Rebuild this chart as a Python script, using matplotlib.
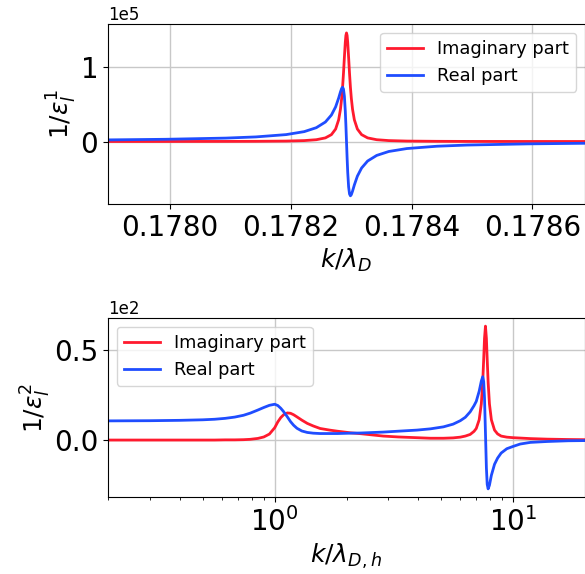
import matplotlib
matplotlib.use("Agg")
import matplotlib.pyplot as plt
import numpy as np

# top panel: resonance near k/lambda_D = 0.178292 (values in units of 1e5)
k1 = [0.177897, 0.177992, 0.178092, 0.178142, 0.178192, 0.178222, 0.178242,
      0.178257, 0.178267, 0.178274, 0.178279, 0.178282, 0.178284, 0.1782855,
      0.178287, 0.1782885, 0.178290, 0.178291, 0.178292, 0.178293, 0.178294,
      0.1782955, 0.178297, 0.1782985, 0.178300, 0.178302, 0.178305, 0.178310,
      0.178317, 0.178327, 0.178342, 0.178362, 0.178392, 0.178442, 0.178492,
      0.178592, 0.178687]
imag1 = [0.0004, 0.0007, 0.0015, 0.0027, 0.0061, 0.0125, 0.0243,
         0.0487, 0.0925, 0.168, 0.292, 0.434, 0.581, 0.730,
         0.917, 1.132, 1.334, 1.426, 1.460, 1.426, 1.334,
         1.132, 0.917, 0.730, 0.581, 0.434, 0.292, 0.168,
         0.0925, 0.0487, 0.0243, 0.0125, 0.0061, 0.0027, 0.0015,
         0.0007, 0.0004]
real1 = [0.0220, 0.0300, 0.0460, 0.0620, 0.0930, 0.133, 0.186,
         0.262, 0.356, 0.466, 0.584, 0.667, 0.714, 0.730,
         0.705, 0.609, 0.410, 0.219, 0.0, -0.219, -0.410,
         -0.609, -0.705, -0.730, -0.714, -0.667, -0.584, -0.466,
         -0.356, -0.262, -0.187, -0.134, -0.0945, -0.0632, -0.0474,
         -0.0316, -0.0235]

# bottom panel (values in units of 1e2)
k2 = [0.200, 0.300, 0.400, 0.500, 0.560, 0.620, 0.680, 0.740, 0.790, 0.850,
      0.900, 0.950, 1.000, 1.030, 1.060, 1.090, 1.130, 1.165, 1.200, 1.240,
      1.300, 1.370, 1.450, 1.550, 1.700, 1.830, 2.080, 2.300, 2.850, 3.300,
      3.950, 4.500, 5.100, 5.600, 6.000, 6.300, 6.600, 6.850, 7.000, 7.200,
      7.350, 7.450, 7.520, 7.580, 7.650, 7.720, 7.780, 7.850, 7.950, 8.100,
      8.350, 8.600, 8.900, 9.400, 10.00, 10.70, 11.80, 13.90, 17.00, 20.00]
imag2 = [0.000, 0.000, 0.000, 0.000, 0.000, 0.001, 0.001, 0.002, 0.004, 0.009,
         0.017, 0.033, 0.068, 0.100, 0.124, 0.140, 0.150, 0.148, 0.140, 0.128,
         0.110, 0.092, 0.078, 0.064, 0.055, 0.049, 0.040, 0.035, 0.022, 0.017,
         0.013, 0.010, 0.010, 0.012, 0.016, 0.022, 0.031, 0.048, 0.064, 0.112,
         0.200, 0.320, 0.446, 0.562, 0.630, 0.562, 0.446, 0.320, 0.200, 0.112,
         0.055, 0.034, 0.022, 0.016, 0.013, 0.011, 0.008, 0.005, 0.003, 0.002]
real2 = [0.106, 0.107, 0.109, 0.112, 0.115, 0.120, 0.127, 0.137, 0.149, 0.166,
         0.180, 0.192, 0.198, 0.191, 0.176, 0.157, 0.128, 0.102, 0.082, 0.065,
         0.050, 0.042, 0.038, 0.036, 0.036, 0.036, 0.038, 0.039, 0.044, 0.049,
         0.055, 0.062, 0.073, 0.088, 0.107, 0.126, 0.156, 0.190, 0.214, 0.270,
         0.326, 0.350, 0.323, 0.233, 0.040, -0.155, -0.245, -0.270, -0.250, -0.195,
         -0.134, -0.100, -0.072, -0.048, -0.035, -0.022, -0.013, -0.008, -0.004, -0.003]

red = '#ff1a2e'
blue = '#1f4dff'

fig = plt.figure(figsize=(5.85, 5.74), dpi=100)

# figure 1
ax1 = fig.add_axes([108/585, 370/574, 477/585, 180/574])
ax1.plot(k1, np.array(imag1)*1e5, color=red, lw=2, label='Imaginary part')
ax1.plot(k1, np.array(real1)*1e5, color=blue, lw=2, label='Real part')
ax1.set_xlim(0.177897, 0.178687)
ax1.set_ylim(-0.84e5, 1.58e5)
ax1.set_xticks([0.1780, 0.1782, 0.1784, 0.1786])
ax1.set_yticks([0, 1e5])
ax1.ticklabel_format(axis='x', useOffset=False)
ax1.ticklabel_format(axis='y', style='sci', scilimits=(5, 5))
ax1.tick_params(labelsize=20)
ax1.yaxis.get_offset_text().set_fontsize(12)
ax1.grid(True, color='#c8c8c8', lw=1)
ax1.set_xlabel(r'$k/\lambda_D$', fontsize=18)
ax1.set_ylabel(r'$1/\epsilon_l^1$', fontsize=18, labelpad=1)
ax1.legend(loc='upper right', fontsize=12.8)

# figure 2
ax2 = fig.add_axes([108/585, 77/574, 477/585, 179/574])
ax2.plot(k2, np.array(imag2)*1e2, color=red, lw=2, label='Imaginary part')
ax2.plot(k2, np.array(real2)*1e2, color=blue, lw=2, label='Real part')
ax2.set_xscale('log')
ax2.set_xlim(0.2, 20)
ax2.set_ylim(-31.5, 67.5)
ax2.set_yticks([0, 50])
ax2.ticklabel_format(axis='y', style='sci', scilimits=(2, 2))
ax2.tick_params(labelsize=20)
ax2.yaxis.get_offset_text().set_fontsize(12)
ax2.grid(True, which='major', color='#c8c8c8', lw=1)
ax2.set_xlabel(r'$k/\lambda_{D,h}$', fontsize=18)
ax2.set_ylabel(r'$1/\epsilon_l^2$', fontsize=18, labelpad=1)
ax2.legend(loc='upper left', fontsize=12.8)

fig.savefig('out.png', dpi=100)
